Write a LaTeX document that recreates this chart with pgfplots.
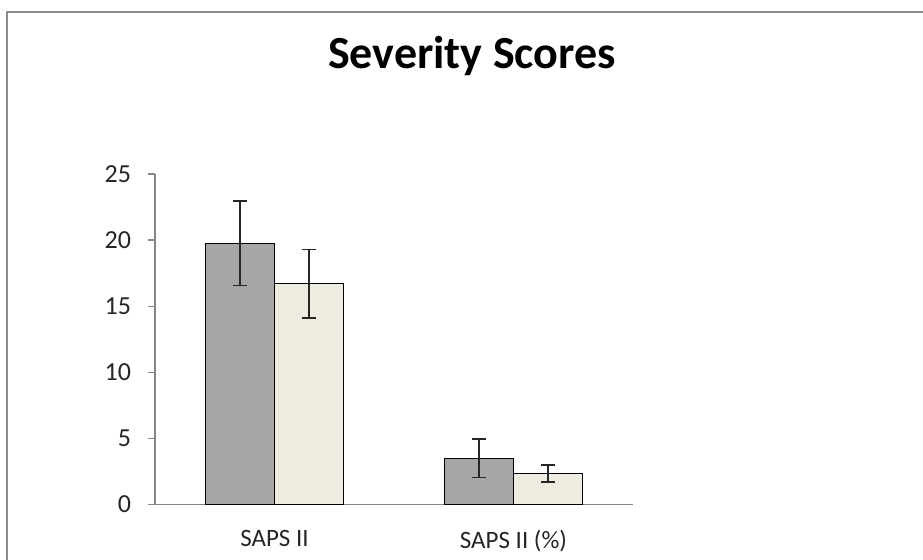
\documentclass[border=0pt]{standalone}
\usepackage{fontspec}
\setmainfont{Carlito}
\usepackage{pgfplots}
\pgfplotsset{compat=1.18}

\definecolor{darkbar}{HTML}{A6A6A6}
\definecolor{lightbar}{HTML}{EEECE1}
\definecolor{axisgray}{HTML}{868686}
\definecolor{framegray}{HTML}{8C8C8C}

\begin{document}
\begin{tikzpicture}
  \useasboundingbox (0,0) rectangle (461.5pt,280pt);
  \fill[white] (0,0) rectangle (461.5pt,280pt);
  % chart area frame (right and bottom edges fall outside the image)
  \draw[framegray, line width=0.75pt] (3.5pt,-20pt) -- (3.5pt,274pt) -- (480pt,274pt);

  \node[anchor=base, font=\fontsize{23}{26}\selectfont\bfseries] at (236pt,245.5pt) {Severity Scores};

  \begin{axis}[
    at={(77.5pt,27.75pt)}, anchor=south west,
    scale only axis,
    width=239pt, height=165.25pt,
    ybar=0pt,
    bar width=0.289,
    xmin=-0.5, xmax=1.5,
    ymin=0, ymax=25,
    ytick distance=5,
    xtick={0,1},
    xticklabels={SAPS II, SAPS II (\%)},
    major x tick style={draw=none},
    extra x ticks={-0.5,0.5,1.5},
    extra x tick labels={},
    extra x tick style={major tick length=5pt, tick style={axisgray, line width=0.6pt}},
    axis x line*=bottom,
    axis y line*=left,
    axis line style={axisgray, line width=0.6pt},
    tick align=outside,
    major tick length=3.5pt,
    tick style={axisgray, line width=0.6pt},
    /pgf/number format/assume math mode=true,
    yticklabel style={font=\fontsize{13}{15}\selectfont, text=black!85, xshift=-5pt},
    xticklabel style={font=\fontsize{12.5}{15}\selectfont, text=black!85, yshift=-6pt},
    error bars/y dir=both,
    error bars/y explicit,
    error bars/error bar style={line width=0.7pt, black!85},
    error bars/error mark options={rotate=90, mark size=3.3pt, line width=0.7pt, black!85},
    clip=false,
  ]
    \addplot[fill=darkbar, draw=black, line width=0.7pt] coordinates {
      (0, 19.75) +- (0, 3.2)
      (1, 3.5)   +- (0, 1.45)
    };
    \addplot[fill=lightbar, draw=black, line width=0.7pt] coordinates {
      (0, 16.7)  +- (0, 2.6)
      (1, 2.35)  +- (0, 0.65)
    };
  \end{axis}
\end{tikzpicture}
\end{document}
